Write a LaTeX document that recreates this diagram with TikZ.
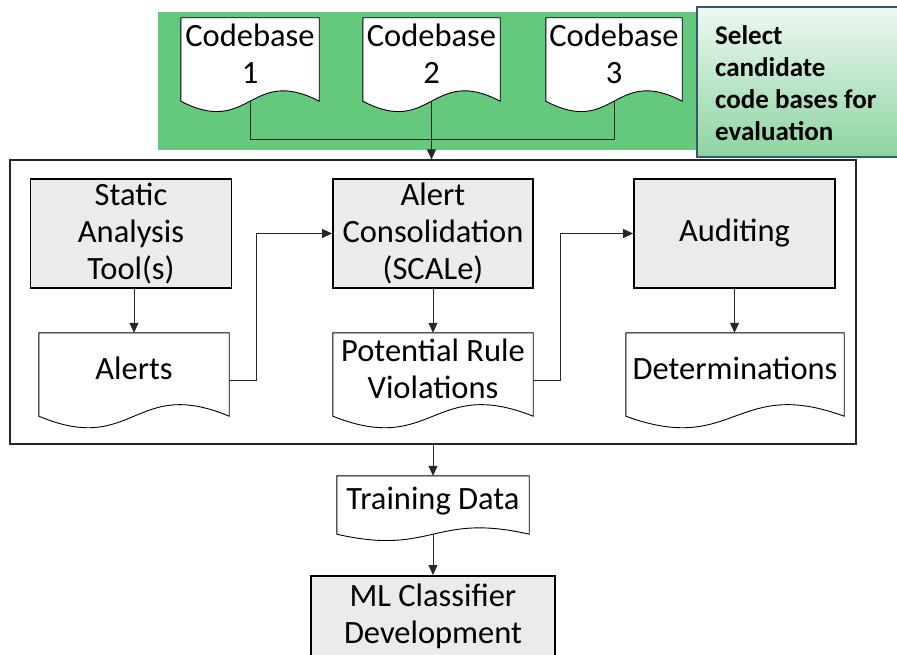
\documentclass[tikz,border=0pt]{standalone}
\usepackage{fontspec}
\setmainfont{Carlito}
\usetikzlibrary{arrows.meta,calc}
\definecolor{bandgreen}{RGB}{100,200,125}
\definecolor{boxgray}{RGB}{235,235,235}
\definecolor{notetop}{RGB}{238,248,241}
\definecolor{notebot}{RGB}{140,212,160}
\definecolor{noteborder}{RGB}{56,84,110}
\pgfdeclarelayer{bg}
\pgfdeclarelayer{mid}
\pgfsetlayers{bg,mid,main}
\newcommand{\bigtxt}{\fontsize{32.5}{37}\selectfont}
\newcommand{\notetxt}{\bfseries\fontsize{27}{32}\selectfont}
\newcommand{\docshape}[3]{%
  \begin{pgfonlayer}{mid}
  \filldraw[docline] (#1.north west) -- (#1.north east) -- ($(#1.south east)+(0,#2)$)
    .. controls ($(#1.south)+(0,#2-#3)$) and ($(#1.south)+(0,#2+#3)$) .. ($(#1.south west)+(0,#2)$) -- cycle;
  \end{pgfonlayer}}
\tikzset{
  docline/.style={draw=black, fill=white, line width=0.9pt},
  docnode/.style={inner sep=0pt, align=center, font=\bigtxt},
  graybox/.style={draw=black, line width=1.8pt, fill=boxgray, inner sep=0pt, align=center, font=\bigtxt},
  conn/.style={draw=black!85, line width=0.8pt},
  arr/.style={conn, -{Triangle[length=10pt,width=9pt]}},
}
\begin{document}
\begin{tikzpicture}[x=1pt,y=-1pt]
\useasboundingbox (0,0) rectangle (897,655);
\clip (0,0) rectangle (897,655);
% green band
\begin{pgfonlayer}{bg}
\fill[bandgreen] (158,12) rectangle (700,150);
\end{pgfonlayer}
% callout
\node[draw=noteborder, line width=1.2pt, top color=notetop, bottom color=notebot,
      minimum width=201, minimum height=150, inner sep=0pt] (note) at (797.5,82) {};
\node[anchor=west, align=left, font=\notetxt, inner sep=0pt] (notetext) at (715,83)
  {Select\\candidate\\code bases for\\evaluation};
% codebases
\node[docnode, minimum width=138, minimum height=71] (cb1) at (250,53.5) {Codebase\\1};
\node[docnode, minimum width=137, minimum height=71] (cb2) at (431.5,53.5) {Codebase\\2};
\node[docnode, minimum width=136, minimum height=71] (cb3) at (614,53.5) {Codebase\\3};
\docshape{cb1}{12}{36}
\docshape{cb2}{12}{36}
\docshape{cb3}{12}{36}
\coordinate (cb1b) at ($(cb1.south)+(0,12)$);
\coordinate (cb2b) at ($(cb2.south)+(0,12)$);
\coordinate (cb3b) at ($(cb3.south)+(0,12)$);
% main box
\node[draw=black!85, line width=1.2pt, minimum width=846, minimum height=284, inner sep=0pt] (mainbox) at (433,302) {};
% process boxes
\node[graybox, minimum width=201, minimum height=109] (sat) at (131,233.5) {Static\\Analysis\\Tool(s)};
\node[graybox, minimum width=200, minimum height=109] (acon) at (433,233.5) {Alert\\Consolidation\\(SCALe)};
\node[graybox, minimum width=201, minimum height=109] (aud) at (734.5,233.5) {Auditing};
% documents
\node[docnode, minimum width=190, minimum height=71] (alerts) at (134,368.5) {Alerts};
\node[docnode, minimum width=200, minimum height=71] (prv) at (433,368.5) {Potential Rule\\Violations};
\node[docnode, minimum width=218, minimum height=71] (det) at (735,368.5) {Determinations};
\docshape{alerts}{12}{40}
\docshape{prv}{12}{40}
\docshape{det}{12}{40}
% training data and ML
\node[docnode, minimum width=192, minimum height=50] (train) at (433,501) {Training Data};
\docshape{train}{8}{22}
\coordinate (trainb) at ($(train.south)+(0,8)$);
\node[graybox, minimum width=244, minimum height=125, anchor=north] (ml) at (433,575) {};
\node[docnode] (mltext) at (433,616) {ML Classifier\\Development};
% connectors
\draw[conn] (cb1b) -- ++(0,38) -| (cb3b);
\draw[arr] (cb2b) -- (cb2b |- mainbox.north);
\draw[arr] (sat.south -| alerts.north) -- (alerts.north);
\draw[arr] ($(alerts.east)+(0,11.5)$) -- ++(27,0) |- (acon.west);
\draw[arr] (acon.south) -- (prv.north);
\draw[arr] ($(prv.east)+(0,11.5)$) -- ++(27,0) |- (aud.west);
\draw[arr] (aud.south) -- (aud.south |- det.north);
\draw[arr] (mainbox.south) -- (train.north);
\draw[arr] (trainb) -- (ml.north);
\end{tikzpicture}
\end{document}
